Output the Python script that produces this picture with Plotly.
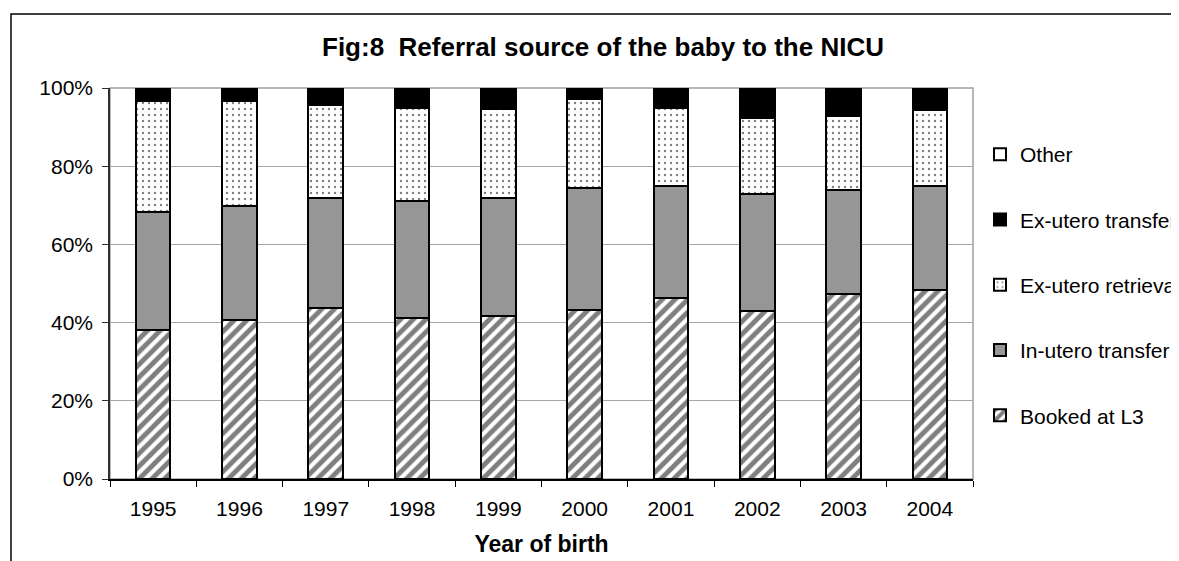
import plotly.graph_objects as go

years = ["1995", "1996", "1997", "1998", "1999", "2000", "2001", "2002", "2003", "2004"]
booked_l3 = [38.0, 40.7, 43.7, 41.1, 41.7, 43.1, 46.3, 43.0, 47.3, 48.3]
in_utero_transfer = [30.3, 29.0, 28.1, 30.1, 30.1, 31.3, 28.6, 29.9, 26.6, 26.6]
ex_utero_retrieval = [28.4, 27.0, 23.8, 23.8, 22.8, 22.7, 20.1, 19.5, 19.0, 19.6]
ex_utero_transfer = [3.3, 3.3, 4.4, 5.0, 5.4, 2.9, 5.0, 7.6, 7.1, 5.5]
other = [0, 0, 0, 0, 0, 0, 0, 0, 0, 0]

# page has an 8px body margin, so the figure is sized/positioned to compensate
W, H = 1171, 553
L, R, T, B = 102, 206, 80, 82

fig = go.Figure()
line = dict(color="black", width=2)
fig.add_trace(go.Bar(x=years, y=booked_l3, name="Booked at L3", legendgroup="a", legendrank=5,
                     marker=dict(color="white", line=line,
                                 pattern=dict(shape="/", fgcolor="black", bgcolor="white",
                                              size=9, solidity=0.55))))
fig.add_trace(go.Bar(x=years, y=in_utero_transfer, name="In-utero transfer", legendgroup="b",
                     legendrank=4, marker=dict(color="#969696", line=line)))
fig.add_trace(go.Bar(x=years, y=ex_utero_retrieval, name="Ex-utero retrieval", legendgroup="c",
                     legendrank=3,
                     marker=dict(color="white", line=line,
                                 pattern=dict(shape=".", fgcolor="black", bgcolor="white",
                                              size=6, solidity=0.12))))
fig.add_trace(go.Bar(x=years, y=ex_utero_transfer, name="Ex-utero transfer", legendgroup="d",
                     legendrank=2, marker=dict(color="black", line=line)))
fig.add_trace(go.Bar(x=years, y=other, name="Other", legendgroup="e", legendrank=1,
                     marker=dict(color="white", line=line)))

font = "Liberation Sans, Arial, sans-serif"

def px_to_paper_x(px):
    return (px - L) / (W - L - R)

def px_to_paper_y(py):
    return (H - B - py) / (H - T - B)

fig.update_layout(
    width=W, height=H,
    margin=dict(l=L, r=R, t=T, b=B, autoexpand=False),
    paper_bgcolor="white", plot_bgcolor="white",
    barmode="stack", bargap=0.6,
    font=dict(family=font, size=21, color="black"),
    title=dict(text="<b>Fig:8  Referral source of the baby to the NICU</b>",
               x=595 / W, xanchor="center", y=1 - 39 / H, yanchor="middle",
               font=dict(size=26, family=font, color="black")),
    showlegend=True,
    legend=dict(x=px_to_paper_x(972), xanchor="left", y=px_to_paper_y(126), yanchor="top",
                traceorder="grouped", tracegroupgap=35, bgcolor="rgba(0,0,0,0)",
                font=dict(size=21, family=font, color="black"), itemwidth=30),
    xaxis=dict(type="category", showline=True, linecolor="black", linewidth=1.5,
               ticks="outside", tickson="boundaries", ticklen=6, tickcolor="black",
               tickfont=dict(size=21), ticklabelstandoff=10,
               title=dict(text="<b>Year of birth</b>", font=dict(size=23), standoff=17)),
    yaxis=dict(range=[0, 100], tickvals=[0, 20, 40, 60, 80, 100],
               ticktext=["0%", "20%", "40%", "60%", "80%", "100%"],
               showline=True, linecolor="#303030", linewidth=1.5,
               ticks="outside", ticklen=6, tickcolor="#303030", ticklabelstandoff=5,
               showgrid=True, gridcolor="#a6a6a6", gridwidth=1,
               tickfont=dict(size=21), zeroline=False),
    shapes=[
        dict(type="rect", xref="paper", yref="paper", x0=0, x1=1, y0=0, y1=1,
             line=dict(color="#a0a0a0", width=1.5), layer="below"),
        dict(type="rect", xref="paper", yref="paper",
             x0=px_to_paper_x(3), x1=px_to_paper_x(1400),
             y0=px_to_paper_y(6), y1=px_to_paper_y(800),
             line=dict(color="black", width=1.5), layer="below"),
    ],
)

fig.write_html("out.html")
